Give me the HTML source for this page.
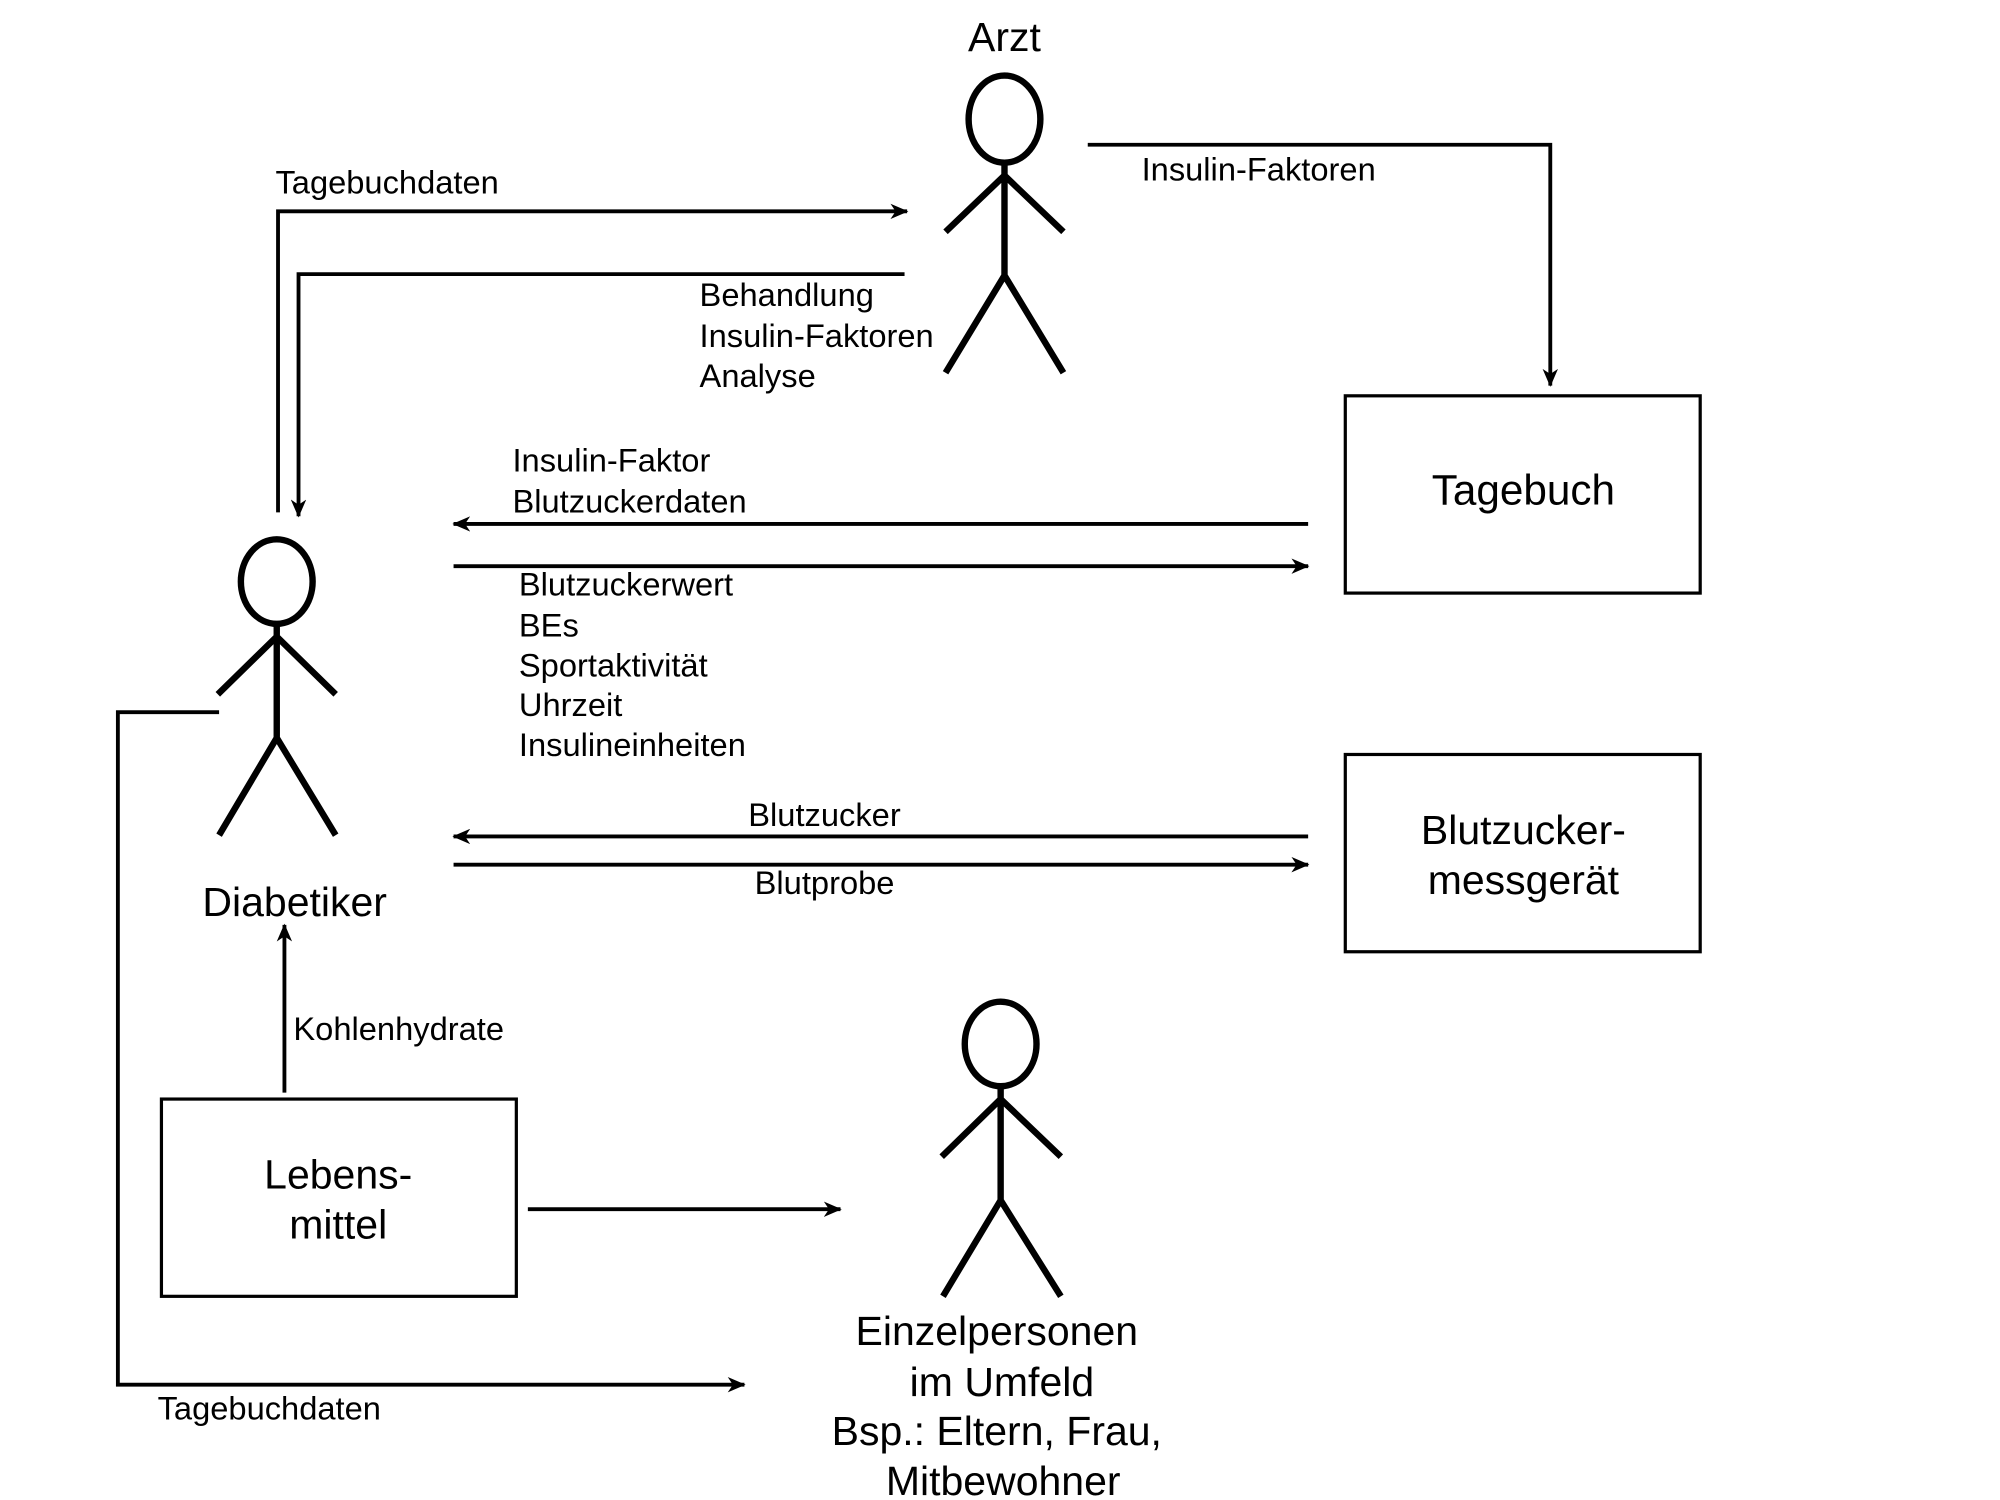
<!DOCTYPE html>
<html><head><meta charset="utf-8"><style>html,body{margin:0;padding:0;background:#fff}svg{display:block}</style></head>
<body>
<svg width="2000" height="1500" viewBox="0 0 1561 1171" preserveAspectRatio="none" xmlns="http://www.w3.org/2000/svg" font-family="Liberation Sans, Arial, sans-serif">
<defs>
<marker id="a" markerWidth="14" markerHeight="12" refX="13" refY="6" orient="auto" markerUnits="userSpaceOnUse">
<path d="M0,0 L14,6 L0,12 L4,6 Z" fill="#000"/>
</marker>
</defs>
<rect width="1561" height="1171" fill="#fff"/>
<g fill="none" stroke="#000" stroke-width="5">
<ellipse cx="784" cy="93" rx="28" ry="34"/>
<path d="M784,127V215M784,137L738,181M784,137L830,181M784,215L738,291M784,215L830,291"/>
<ellipse cx="216" cy="454" rx="28" ry="33"/>
<path d="M216,487V576M216,497L170,542M216,497L262,542M216,576L171,652M216,576L262,652"/>
<ellipse cx="781" cy="815" rx="28" ry="33"/>
<path d="M781,848V937M781,858L735,903M781,858L828,903M781,937L736,1012M781,937L828,1012"/>
</g>
<g fill="none" stroke="#000" stroke-width="2.5">
<rect x="1050" y="309" width="277" height="154"/>
<rect x="1050" y="589" width="277" height="154"/>
<rect x="126" y="858" width="277" height="154"/>
</g>
<g fill="none" stroke="#000" stroke-width="3">
<path d="M217,400V165H708" marker-end="url(#a)"/>
<path d="M706,214H233V403" marker-end="url(#a)"/>
<path d="M849,113H1210V301" marker-end="url(#a)"/>
<path d="M1021,409H354" marker-end="url(#a)"/>
<path d="M354,442H1021" marker-end="url(#a)"/>
<path d="M1021,653H354" marker-end="url(#a)"/>
<path d="M354,675H1021" marker-end="url(#a)"/>
<path d="M222,853V722" marker-end="url(#a)"/>
<path d="M412,944H656" marker-end="url(#a)"/>
<path d="M171,556H92V1081H581" marker-end="url(#a)"/>
</g>
<g fill="#000" font-size="32" text-anchor="middle">
<text x="784" y="40">Arzt</text>
<text x="230" y="715">Diabetiker</text>
<text x="778" y="1050">Einzelpersonen</text>
<text x="782" y="1090">im Umfeld</text>
<text x="778" y="1128">Bsp.: Eltern, Frau,</text>
<text x="783" y="1167">Mitbewohner</text>
<text x="1189" y="394" font-size="33">Tagebuch</text>
<text x="1189" y="659">Blutzucker-</text>
<text x="1189" y="698">messgerät</text>
<text x="264" y="928">Lebens-</text>
<text x="264" y="967">mittel</text>
</g>
<g fill="#000" font-size="25.5">
<text x="215" y="151">Tagebuchdaten</text>
<text x="546" y="239">Behandlung</text>
<text x="546" y="271">Insulin-Faktoren</text>
<text x="546" y="302">Analyse</text>
<text x="891" y="141">Insulin-Faktoren</text>
<text x="400" y="368">Insulin-Faktor</text>
<text x="400" y="400">Blutzuckerdaten</text>
<text x="405" y="465">Blutzuckerwert</text>
<text x="405" y="497">BEs</text>
<text x="405" y="528">Sportaktivität</text>
<text x="405" y="559">Uhrzeit</text>
<text x="405" y="590">Insulineinheiten</text>
<text x="584" y="645">Blutzucker</text>
<text x="589" y="698">Blutprobe</text>
<text x="229" y="812">Kohlenhydrate</text>
<text x="123" y="1108">Tagebuchdaten</text>
</g>
</svg>
</body></html>
